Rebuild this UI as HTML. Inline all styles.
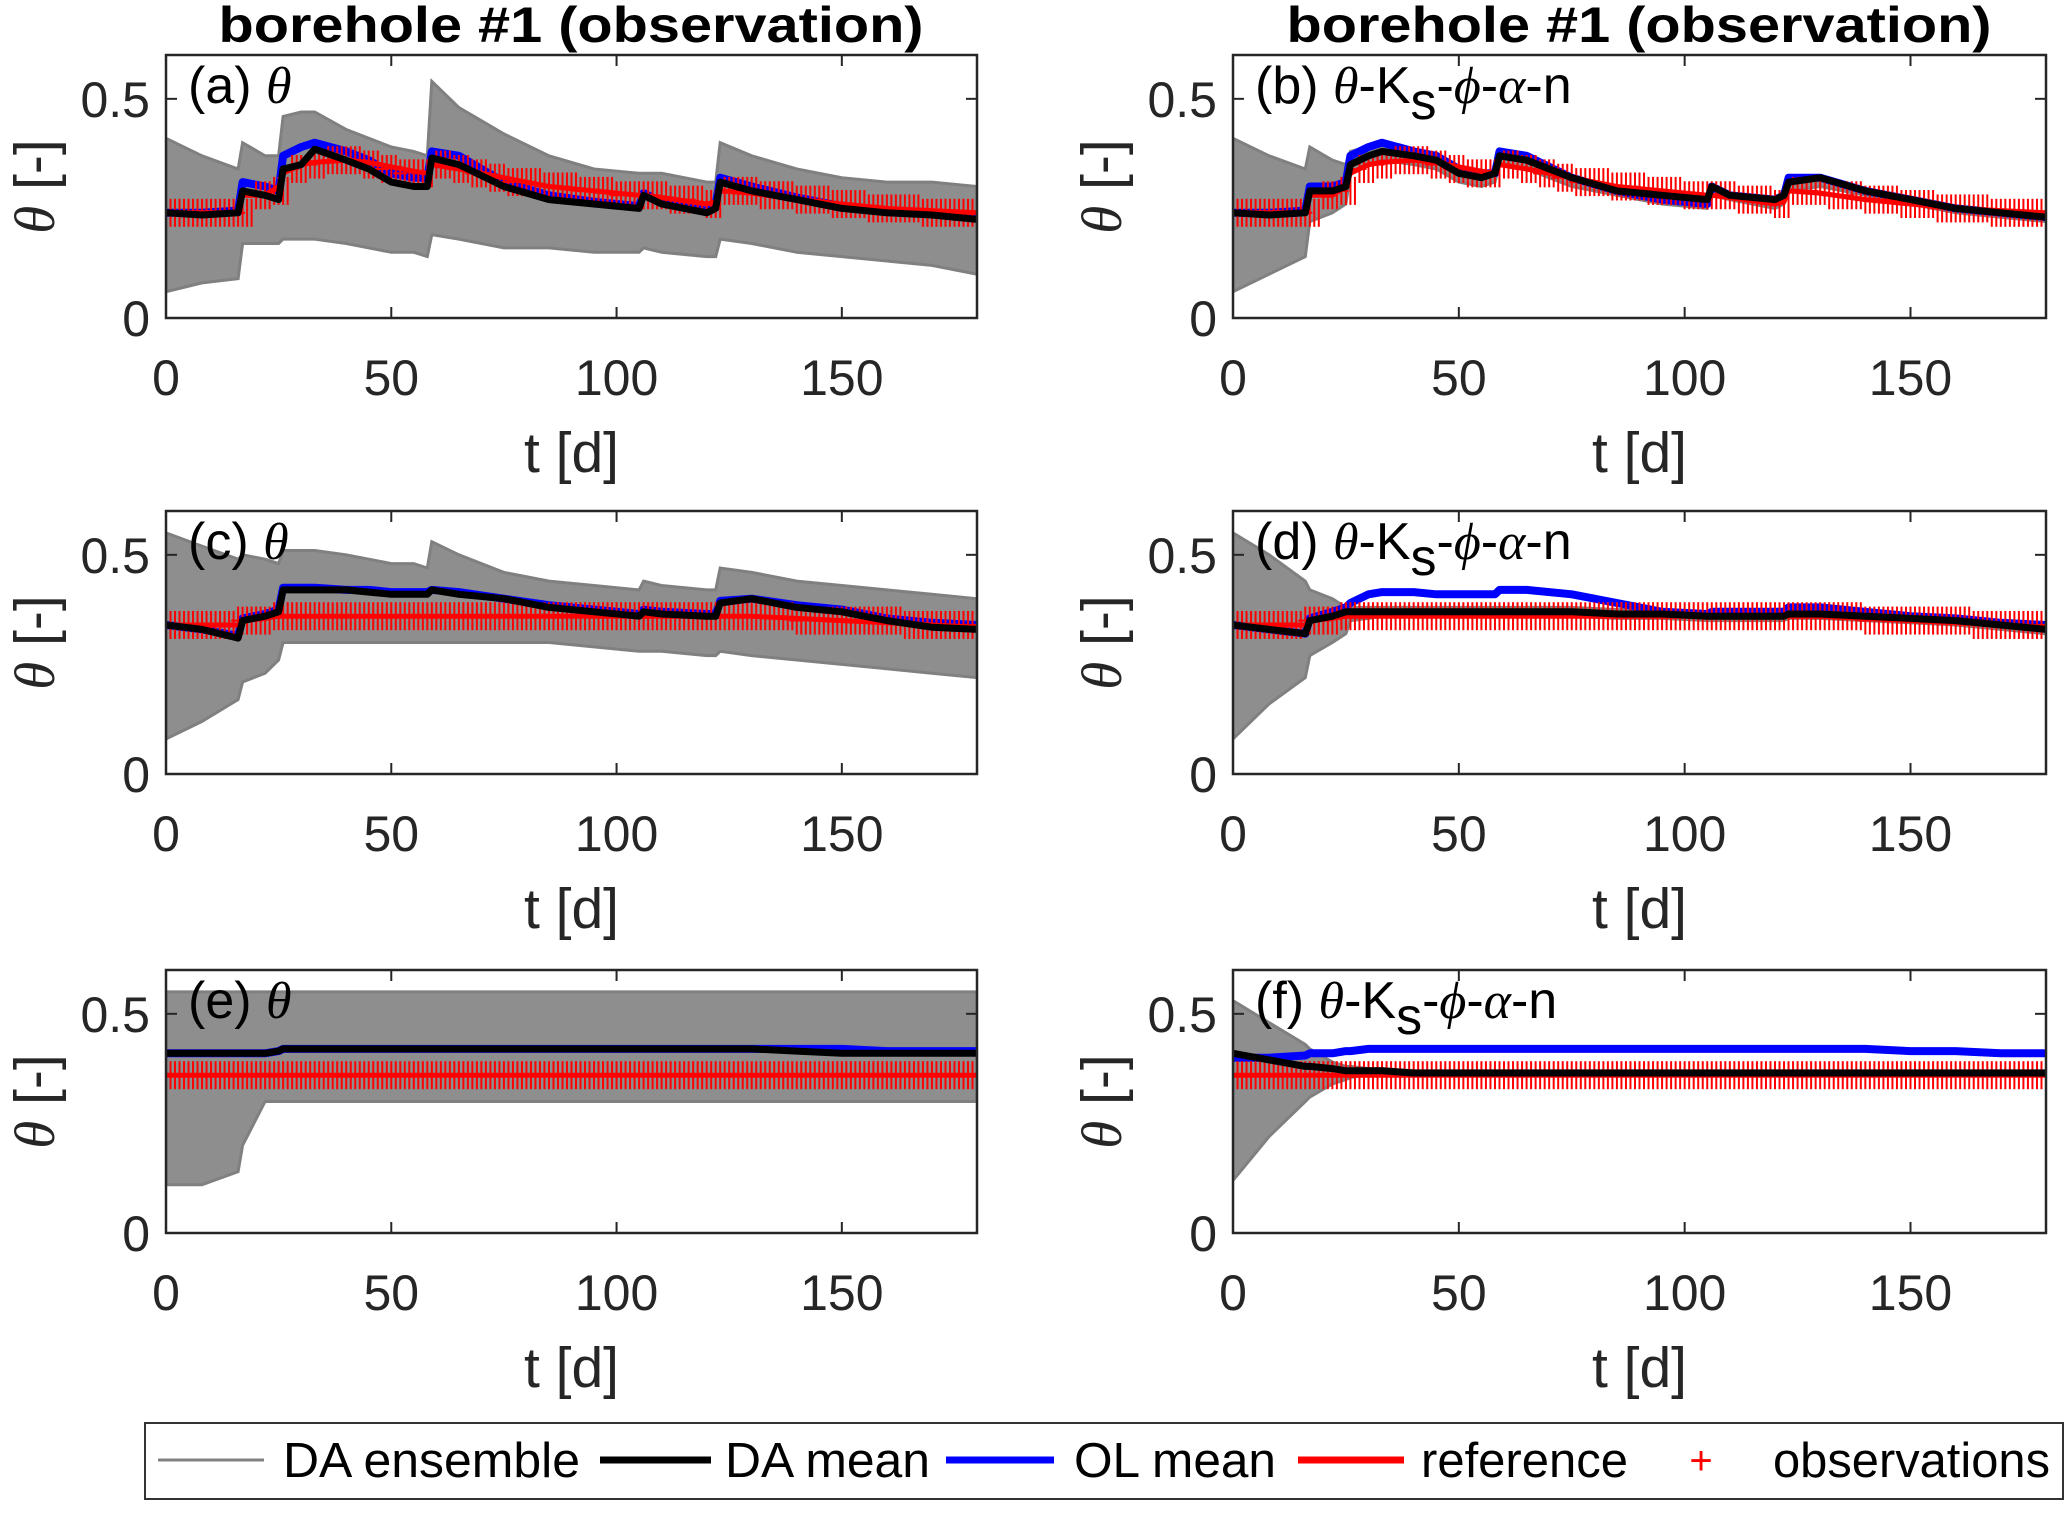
<!DOCTYPE html>
<html><head><meta charset="utf-8"><style>
html,body{margin:0;padding:0;background:#fff;}
svg{display:block;font-family:"Liberation Sans",sans-serif;}
</style></head><body>
<svg id="fig" width="2067" height="1538" viewBox="0 0 2067 1538" xmlns="http://www.w3.org/2000/svg">
<text x="571" y="42" font-size="50" font-weight="bold" text-anchor="middle" textLength="705" lengthAdjust="spacingAndGlyphs">borehole #1 (observation)</text>
<text x="1639" y="42" font-size="50" font-weight="bold" text-anchor="middle" textLength="705" lengthAdjust="spacingAndGlyphs">borehole #1 (observation)</text>
<g id="panels"></g>
<g>
<rect x="145" y="1423" width="1918" height="76" fill="#fff" stroke="#333" stroke-width="2"/>
<line x1="158" y1="1460" x2="264" y2="1460" stroke="#808080" stroke-width="3"/>
<text x="283" y="1477" font-size="49" textLength="297" lengthAdjust="spacingAndGlyphs">DA ensemble</text>
<line x1="600" y1="1460" x2="711" y2="1460" stroke="#000" stroke-width="7"/>
<text x="725" y="1477" font-size="49" textLength="205" lengthAdjust="spacingAndGlyphs">DA mean</text>
<line x1="946" y1="1460" x2="1054" y2="1460" stroke="#0000ff" stroke-width="7"/>
<text x="1074" y="1477" font-size="49" textLength="202" lengthAdjust="spacingAndGlyphs">OL mean</text>
<line x1="1298" y1="1460" x2="1404" y2="1460" stroke="#ff0000" stroke-width="7"/>
<text x="1421" y="1477" font-size="49" textLength="207" lengthAdjust="spacingAndGlyphs">reference</text>
<text x="1701" y="1474" font-size="40" fill="#ff0000" text-anchor="middle">+</text>
<text x="1773" y="1477" font-size="49" textLength="277" lengthAdjust="spacingAndGlyphs">observations</text>
</g>
</svg>
<script>
const T=[0,8,16,17,22,25,26,30,33,40,45,50,55,58,59,65,75,85,95,105,106,110,120,122,123,130,140,150,160,170,180];
const xTicks=[0,50,100,150];
const yTicks=[0,0.5];
const yTickLabels=["0","0.5"];
const xTickLabels=["0","50","100","150"];
// panel a
const aDA=[0.24,0.235,0.24,0.29,0.28,0.27,0.34,0.35,0.385,0.36,0.34,0.31,0.30,0.30,0.365,0.35,0.30,0.27,0.26,0.25,0.28,0.26,0.24,0.25,0.31,0.29,0.27,0.25,0.24,0.235,0.225];
const aOL=[0.24,0.24,0.245,0.31,0.30,0.29,0.37,0.39,0.40,0.38,0.36,0.33,0.32,0.32,0.38,0.37,0.31,0.28,0.265,0.255,0.285,0.265,0.25,0.26,0.32,0.30,0.275,0.255,0.245,0.24,0.23];
const aRef=[0.24,0.24,0.24,0.28,0.28,0.30,0.33,0.35,0.355,0.36,0.355,0.345,0.335,0.33,0.35,0.34,0.32,0.30,0.29,0.28,0.28,0.275,0.26,0.265,0.29,0.285,0.27,0.26,0.25,0.245,0.24];
const aHi=[0.41,0.37,0.34,0.40,0.37,0.37,0.46,0.47,0.47,0.43,0.41,0.39,0.38,0.37,0.54,0.48,0.42,0.37,0.34,0.33,0.33,0.33,0.31,0.31,0.40,0.37,0.34,0.32,0.31,0.31,0.30];
const aLo=[0.06,0.08,0.09,0.17,0.17,0.17,0.18,0.18,0.18,0.17,0.16,0.15,0.15,0.14,0.19,0.18,0.16,0.16,0.15,0.15,0.16,0.15,0.14,0.14,0.18,0.17,0.15,0.14,0.13,0.12,0.10];
const aObs=[0.24,0.24,0.24,0.24,0.24,0.28,0.29,0.34,0.35,0.36,0.36,0.35,0.34,0.33,0.33,0.35,0.34,0.33,0.32,0.31,0.31,0.30,0.30,0.29,0.29,0.28,0.28,0.28,0.27,0.27,0.26,0.29,0.29,0.28,0.28,0.27,0.27,0.26,0.26,0.25,0.25,0.25,0.24,0.24,0.24,0.24];
// panel b
const bDA=[0.24,0.235,0.24,0.29,0.29,0.30,0.35,0.37,0.38,0.37,0.36,0.33,0.32,0.33,0.37,0.36,0.32,0.29,0.28,0.27,0.30,0.28,0.27,0.28,0.31,0.32,0.29,0.27,0.25,0.24,0.23];
const bOL=[0.24,0.24,0.245,0.30,0.30,0.31,0.37,0.39,0.40,0.38,0.37,0.34,0.33,0.33,0.38,0.37,0.32,0.29,0.27,0.26,0.30,0.28,0.27,0.28,0.32,0.32,0.29,0.27,0.25,0.24,0.23];
const bRef=aRef;
const bHi=[0.41,0.37,0.34,0.39,0.36,0.35,0.38,0.39,0.40,0.38,0.37,0.34,0.33,0.33,0.38,0.37,0.32,0.29,0.28,0.27,0.30,0.28,0.27,0.28,0.32,0.32,0.29,0.27,0.25,0.24,0.23];
const bLo=[0.06,0.10,0.14,0.22,0.24,0.26,0.33,0.35,0.36,0.35,0.34,0.31,0.30,0.31,0.35,0.34,0.30,0.28,0.26,0.25,0.28,0.27,0.25,0.26,0.29,0.30,0.28,0.26,0.24,0.23,0.22];
const bObs=aObs;
// panel c
const cDA=[0.34,0.33,0.31,0.35,0.36,0.37,0.42,0.42,0.42,0.42,0.415,0.41,0.41,0.41,0.42,0.41,0.40,0.38,0.37,0.36,0.37,0.365,0.36,0.36,0.39,0.40,0.38,0.37,0.35,0.335,0.33];
const cOL=[0.34,0.33,0.315,0.355,0.365,0.375,0.425,0.425,0.425,0.42,0.42,0.415,0.415,0.415,0.42,0.415,0.40,0.385,0.375,0.365,0.375,0.37,0.365,0.365,0.395,0.40,0.385,0.375,0.355,0.345,0.34];
const cRef=[0.34,0.34,0.34,0.35,0.355,0.36,0.36,0.36,0.36,0.36,0.36,0.36,0.36,0.36,0.36,0.36,0.36,0.36,0.36,0.36,0.36,0.36,0.36,0.36,0.36,0.36,0.355,0.35,0.345,0.34,0.335];
const cHi=[0.55,0.52,0.49,0.50,0.49,0.48,0.51,0.51,0.51,0.50,0.49,0.48,0.48,0.47,0.53,0.50,0.46,0.44,0.43,0.42,0.44,0.43,0.42,0.42,0.47,0.46,0.44,0.43,0.42,0.41,0.40];
const cLo=[0.08,0.12,0.17,0.21,0.23,0.26,0.30,0.30,0.30,0.30,0.30,0.30,0.30,0.30,0.30,0.30,0.30,0.30,0.29,0.28,0.28,0.28,0.27,0.27,0.28,0.27,0.26,0.25,0.24,0.23,0.22];
const cObs=[0.34,0.34,0.34,0.34,0.35,0.35,0.36,0.36,0.36,0.36,0.36,0.36,0.36,0.36,0.36,0.36,0.36,0.36,0.36,0.36,0.36,0.36,0.36,0.36,0.36,0.36,0.36,0.36,0.36,0.36,0.36,0.36,0.36,0.36,0.36,0.35,0.35,0.35,0.35,0.35,0.35,0.34,0.34,0.34,0.34,0.34];
// panel d
const dDA=[0.34,0.33,0.32,0.35,0.36,0.37,0.37,0.37,0.37,0.37,0.37,0.37,0.37,0.37,0.37,0.37,0.37,0.365,0.365,0.36,0.36,0.36,0.36,0.36,0.365,0.365,0.36,0.355,0.35,0.34,0.33];
const dOL=[0.34,0.33,0.32,0.355,0.37,0.38,0.39,0.41,0.415,0.415,0.41,0.41,0.41,0.41,0.42,0.42,0.41,0.39,0.37,0.365,0.37,0.37,0.37,0.37,0.38,0.38,0.37,0.36,0.355,0.345,0.34];
const dRef=cRef;
const dHi=[0.55,0.50,0.44,0.42,0.40,0.38,0.38,0.38,0.38,0.38,0.38,0.38,0.38,0.38,0.38,0.38,0.38,0.375,0.375,0.37,0.37,0.37,0.37,0.37,0.375,0.375,0.37,0.365,0.36,0.35,0.34];
const dLo=[0.08,0.16,0.22,0.27,0.30,0.32,0.35,0.355,0.36,0.36,0.36,0.36,0.36,0.36,0.36,0.36,0.36,0.355,0.355,0.35,0.35,0.35,0.35,0.35,0.355,0.355,0.35,0.345,0.34,0.33,0.32];
const dObs=cObs;
// panel e
const eDA=[0.41,0.41,0.41,0.41,0.41,0.415,0.42,0.42,0.42,0.42,0.42,0.42,0.42,0.42,0.42,0.42,0.42,0.42,0.42,0.42,0.42,0.42,0.42,0.42,0.42,0.42,0.415,0.41,0.41,0.41,0.41];
const eOL=[0.41,0.41,0.41,0.41,0.41,0.415,0.42,0.42,0.42,0.42,0.42,0.42,0.42,0.42,0.42,0.42,0.42,0.42,0.42,0.42,0.42,0.42,0.42,0.42,0.42,0.42,0.42,0.42,0.415,0.415,0.415];
const eRef=[0.36,0.36,0.36,0.36,0.36,0.36,0.36,0.36,0.36,0.36,0.36,0.36,0.36,0.36,0.36,0.36,0.36,0.36,0.36,0.36,0.36,0.36,0.36,0.36,0.36,0.36,0.36,0.36,0.36,0.36,0.36];
const eHi=[0.55,0.55,0.55,0.55,0.55,0.55,0.55,0.55,0.55,0.55,0.55,0.55,0.55,0.55,0.55,0.55,0.55,0.55,0.55,0.55,0.55,0.55,0.55,0.55,0.55,0.55,0.55,0.55,0.55,0.55,0.55];
const eLo=[0.11,0.11,0.14,0.20,0.30,0.30,0.30,0.30,0.30,0.30,0.30,0.30,0.30,0.30,0.30,0.30,0.30,0.30,0.30,0.30,0.30,0.30,0.30,0.30,0.30,0.30,0.30,0.30,0.30,0.30,0.30];
const eObs=[0.36,0.36,0.36,0.36,0.36,0.36,0.36,0.36,0.36,0.36,0.36,0.36,0.36,0.36,0.36,0.36,0.36,0.36,0.36,0.36,0.36,0.36,0.36,0.36,0.36,0.36,0.36,0.36,0.36,0.36,0.36,0.36,0.36,0.36,0.36,0.36,0.36,0.36,0.36,0.36,0.36,0.36,0.36,0.36,0.36,0.36];
// panel f
const fDA=[0.41,0.395,0.38,0.38,0.375,0.37,0.37,0.37,0.37,0.365,0.365,0.365,0.365,0.365,0.365,0.365,0.365,0.365,0.365,0.365,0.365,0.365,0.365,0.365,0.365,0.365,0.365,0.365,0.365,0.365,0.365];
const fOL=[0.40,0.40,0.405,0.41,0.41,0.415,0.415,0.42,0.42,0.42,0.42,0.42,0.42,0.42,0.42,0.42,0.42,0.42,0.42,0.42,0.42,0.42,0.42,0.42,0.42,0.42,0.42,0.415,0.415,0.41,0.41];
const fRef=eRef;
const fHi=[0.53,0.48,0.43,0.42,0.39,0.38,0.38,0.375,0.375,0.37,0.37,0.37,0.37,0.37,0.37,0.37,0.37,0.37,0.37,0.37,0.37,0.37,0.37,0.37,0.37,0.37,0.37,0.37,0.37,0.37,0.37];
const fLo=[0.12,0.22,0.30,0.31,0.34,0.35,0.355,0.36,0.36,0.36,0.36,0.36,0.36,0.36,0.36,0.36,0.36,0.36,0.36,0.36,0.36,0.36,0.36,0.36,0.36,0.36,0.36,0.36,0.36,0.36,0.36];
const fObs=eObs;

const NS="http://www.w3.org/2000/svg";
const root=document.getElementById('panels');
const cols=[[166,977],[1233,2046]];
const rows=[[55,318],[511,774],[970,1233]];
const panels=[
 {id:'a',c:0,r:0,da:aDA,ol:aOL,ref:aRef,hi:aHi,lo:aLo,obs:aObs,lab:'simple'},
 {id:'b',c:1,r:0,da:bDA,ol:bOL,ref:bRef,hi:bHi,lo:bLo,obs:bObs,lab:'full'},
 {id:'c',c:0,r:1,da:cDA,ol:cOL,ref:cRef,hi:cHi,lo:cLo,obs:cObs,lab:'simple'},
 {id:'d',c:1,r:1,da:dDA,ol:dOL,ref:dRef,hi:dHi,lo:dLo,obs:dObs,lab:'full'},
 {id:'e',c:0,r:2,da:eDA,ol:eOL,ref:eRef,hi:eHi,lo:eLo,obs:eObs,lab:'simple'},
 {id:'f',c:1,r:2,da:fDA,ol:fOL,ref:fRef,hi:fHi,lo:fLo,obs:fObs,lab:'full'}
];
function mk(tag,attrs,parent){const e=document.createElementNS(NS,tag);for(const k in attrs)e.setAttribute(k,attrs[k]);parent.appendChild(e);return e;}
panels.forEach(p=>{
 const L=cols[p.c][0],R=cols[p.c][1],Tp=rows[p.r][0],B=rows[p.r][1];
 const xs=t=>L+(t/180)*(R-L);
 const ys=v=>B-(v/0.6)*(B-Tp);
 const g=mk('g',{},root);
 
 
 const clipId='clip'+p.id;
 const cp=mk('clipPath',{id:clipId},g);mk('rect',{x:L,y:Tp,width:R-L,height:B-Tp},cp);
 const pg=mk('g',{'clip-path':'url(#'+clipId+')'},g);
 let d='';T.forEach((t,i)=>{d+=(i?'L':'M')+xs(t).toFixed(1)+' '+ys(p.hi[i]).toFixed(1);});
 for(let i=T.length-1;i>=0;i--)d+='L'+xs(T[i]).toFixed(1)+' '+ys(p.lo[i]).toFixed(1);
 const band=mk('path',{d:d+'Z',fill:'#8e8e8e',stroke:'#808080','stroke-width':3},pg);
 
 
 const line=(arr,col,w,name)=>{let s='';T.forEach((t,i)=>{s+=(i?'L':'M')+xs(t).toFixed(1)+' '+ys(arr[i]).toFixed(1);});
  const e=mk('path',{d:s,fill:'none',stroke:col,'stroke-width':w,'stroke-linejoin':'round'},pg);
  
  };
 line(p.ol,'#0000ff',8,'ol-mean-'+p.id);
 line(p.ref,'#ff0000',5,'reference-'+p.id);
 const og=mk('g',{stroke:'#ff0000','stroke-width':2},pg);
 
 
 p.obs.forEach((v,i)=>{const y=ys(v);
  [0,1,2,3].forEach(k=>{const t=i*4+k;if(t>180)return;const x=xs(t);
   mk('line',{x1:x,y1:y-14,x2:x,y2:y+14},og);
   if(k===0)mk('line',{x1:x-7,y1:y,x2:x+7,y2:y},og);});
 });
 line(p.da,'#000',7,'da-mean-'+p.id);
 const box=mk('rect',{x:L,y:Tp,width:R-L,height:B-Tp,fill:'none',stroke:'#262626','stroke-width':2.5},g);
 
 
 xTicks.forEach((t,i)=>{const x=xs(t);
  mk('line',{x1:x,y1:B,x2:x,y2:B-11,stroke:'#262626','stroke-width':2},g);
  mk('line',{x1:x,y1:Tp,x2:x,y2:Tp+11,stroke:'#262626','stroke-width':2},g);
  const tl=mk('text',{x:x,y:B+77,'font-size':50,'text-anchor':'middle',fill:'#262626'},g);tl.textContent=xTickLabels[i];
  
  });
 yTicks.forEach((v,i)=>{const y=ys(v);
  mk('line',{x1:L,y1:y,x2:L+11,y2:y,stroke:'#262626','stroke-width':2},g);
  mk('line',{x1:R,y1:y,x2:R-11,y2:y,stroke:'#262626','stroke-width':2},g);
  const tl=mk('text',{x:L-16,y:y+18,'font-size':50,'text-anchor':'end',fill:'#262626'},g);tl.textContent=yTickLabels[i];
  
  });
 const xl=mk('text',{x:(L+R)/2,y:B+154,'font-size':57,'text-anchor':'middle',fill:'#262626'},g);xl.textContent='t [d]';
 
 
 const cy=(Tp+B)/2;const yx=L-112;
 const yl=mk('text',{x:yx,y:cy,'font-size':57,'text-anchor':'middle',fill:'#262626',transform:'rotate(-90 '+yx+' '+cy+')'},g);
 yl.innerHTML='<tspan font-family="Liberation Serif,serif" font-style="italic">θ</tspan> [-]';
 
 
 const pl=mk('text',{x:L+22,y:Tp+48,'font-size':52,fill:'#000'},g);
 if(p.lab==='simple'){pl.innerHTML='('+p.id+') <tspan font-family="Liberation Serif,serif" font-style="italic">θ</tspan>';}
 else{pl.innerHTML='('+p.id+') <tspan font-family="Liberation Serif,serif" font-style="italic">θ</tspan>-K<tspan dy="16">s</tspan><tspan dy="-16">-</tspan><tspan font-family="Liberation Serif,serif" font-style="italic">ϕ</tspan>-<tspan font-family="Liberation Serif,serif" font-style="italic">α</tspan>-n';}
 
 
});
</script>
</body></html>
